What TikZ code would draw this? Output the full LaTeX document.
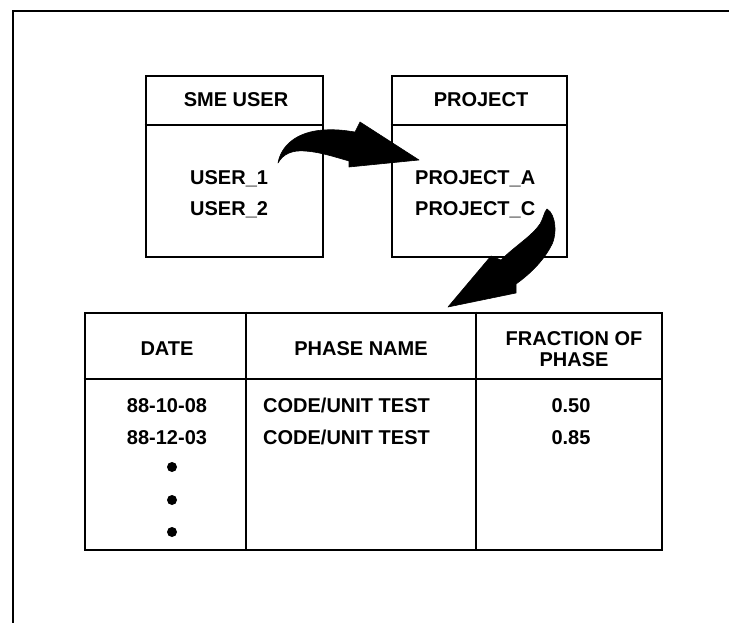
\documentclass[tikz,border=0pt]{standalone}
\usepackage{fontspec}
\setmainfont{Liberation Sans}
\begin{document}
\begin{tikzpicture}[x=1pt,y=-1pt,
  rule/.style={line width=2.9pt},
  box/.style={draw, rule, inner sep=0pt, rectangle},
  lbl/.style={font=\fontsize{20}{22}\selectfont\bfseries, inner sep=0pt, anchor=base},
  fatarrow/.style={fill=black, draw=black, line width=0.6pt, line join=round}]
\useasboundingbox (0,0) rectangle (729,623);

% page frame (top and left edges)
\draw[rule] (13,623) -- (13,11) -- (729,11);

% entity boxes
\node[box, minimum width=177pt, minimum height=181pt] (sme) at (234.5,166.5) {};
\node[box, minimum width=175pt, minimum height=181pt] (proj) at (479.5,166.5) {};
\coordinate (hdr) at (0,125);
\draw[rule] (sme.west |- hdr) -- (sme.east |- hdr);
\draw[rule] (proj.west |- hdr) -- (proj.east |- hdr);

\node[lbl] (smet) at (236,107) {SME USER};
\node[lbl] (projt) at (481,107) {PROJECT};
\node[lbl, anchor=base west] (u1) at (190,185) {USER\_1};
\node[lbl, anchor=base west] (u2) at (190,215) {USER\_2};
\node[lbl, anchor=base west] (pa) at (415,185) {PROJECT\_A};
\node[lbl, anchor=base west] (pc) at (415,215) {PROJECT\_C};

% phase table
\node[box, minimum width=577pt, minimum height=237pt] (tbl) at (373.5,431.5) {};
\coordinate (thdr) at (0,379);
\coordinate (col1) at (246,0);
\coordinate (col2) at (476,0);
\draw[rule] (tbl.west |- thdr) -- (tbl.east |- thdr);
\draw[rule] (tbl.north -| col1) -- (tbl.south -| col1);
\draw[rule] (tbl.north -| col2) -- (tbl.south -| col2);

\node[lbl] (hdate) at (167,355) {DATE};
\node[lbl] (hname) at (361,355) {PHASE NAME};
\node[lbl] (hfrac1) at (574,345) {FRACTION OF};
\node[lbl] (hfrac2) at (574,366) {PHASE};

\node[lbl] (d1) at (167,412) {88-10-08};
\node[lbl] (d2) at (167,444) {88-12-03};
\node[lbl, anchor=base west] (n1) at (263,412) {CODE/UNIT TEST};
\node[lbl, anchor=base west] (n2) at (263,444) {CODE/UNIT TEST};
\node[lbl] (f1) at (571,412) {0.50};
\node[lbl] (f2) at (571,444) {0.85};

\foreach \yy/\nm in {467/dotA, 500/dotB, 532/dotC}
  \fill (172,\yy) circle (5pt) coordinate (\nm);

% curved arrow from SME USER to PROJECT
\path[fatarrow]
  (278,163) .. controls (281,146) and (296,132) .. (323,130)
  .. controls (338,129) and (348,131) .. (355,132)
  -- (360,122) -- (419,160) -- (349,167) -- (349,161)
  .. controls (335,157) and (320,152) .. (305,151)
  .. controls (292,150) and (283,154) .. (278,163) -- cycle;

% curved arrow from PROJECT to the phase table
\path[fatarrow]
  (547,209) .. controls (556,214) and (558,236) .. (550,248)
  .. controls (542,262) and (530,274) .. (516,284)
  -- (516,293) -- (448,307) -- (491,256) -- (501,260)
  .. controls (515,246) and (532,236) .. (540,224)
  .. controls (544,217) and (544,212) .. (547,209) -- cycle;
\end{tikzpicture}
\end{document}
